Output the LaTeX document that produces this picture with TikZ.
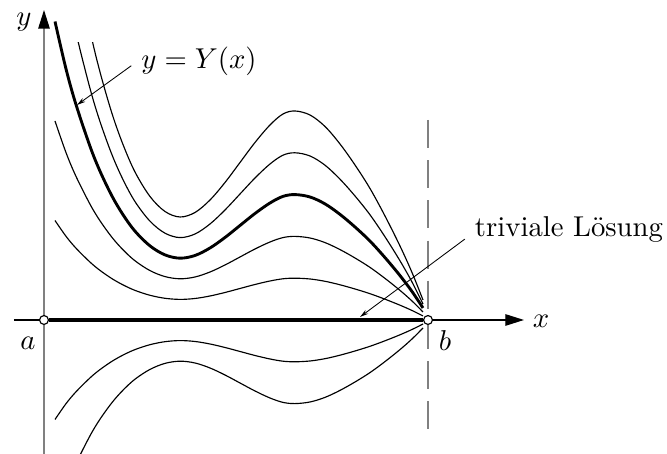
\documentclass[tikz,border=0pt]{standalone}
\usepackage{tikz}
\usetikzlibrary{arrows.meta}

\newcommand{\solcurve}[2][]{%
  \draw[yscale=#2,#1] plot[smooth,tension=0.55] coordinates {(11,99.5) (22,83.7) (32,71.8) (46,57.9) (56,49.6) (68,41.3) (79,35.1) (91,29.6) (106,24.7) (121,21.7) (136,20.6) (151,21.5) (166,24) (181,27.5) (196,31.5) (211,35.5) (226,39) (239,41.2) (251,41.8) (266,41) (281,38.7) (296,35.2) (311,31) (326,26.3) (341,20.8) (356,14.8) (368,9.5) (379,4)};}

\begin{document}
\begin{tikzpicture}[x=0.3484pt,y=0.3484pt, >=Stealth,
  pt/.style={circle,draw,fill=white,inner sep=0pt,minimum size=3.1pt,line width=0.4pt},
  sol/.style={line width=0.4pt},
  ysol/.style={line width=1pt},
  note/.style={line width=0.3pt,-{Stealth[length=3pt,width=1.6pt]}},
  axis/.style={line width=0.45pt,-{Triangle[length=6.5pt,width=4pt,color=black]}}]
\clip (-44,-134) rectangle (623,320);
% axes
\coordinate (xbeg) at (-30,0);
\coordinate (xend) at (480,0);
\coordinate (ybeg) at (0,-140);
\coordinate (yend) at (0,310);
\coordinate (dtop) at (384,200);
\coordinate (dbot) at (384,-110);
\draw[axis] (xbeg) -- (xend);
\draw[axis,gray] (ybeg) -- (yend);
\draw[gray,line width=0.5pt,dash pattern=on 9.8pt off 4.2pt] (dtop) -- (dbot);
% solutions
\solcurve[sol]{1}
\solcurve[sol]{2}
\solcurve[ysol]{3}
\solcurve[sol]{-1}
\solcurve[sol]{-2}
\begin{scope}
\clip (0,-134) rectangle (400,277);
\solcurve[sol]{4}
\solcurve[sol]{5}
\end{scope}
% end points
\node[pt] (a) at (0,0) {};
\node[pt] (b) at (384,0) {};
\draw[line width=1.1pt] (a) -- (b);
% labels
\node (ylab) at (-20,298) {$y$};
\node (xlab) at (497,-1) {$x$};
\node (alab) at (-16,-23) {$a$};
\node (blab) at (401,-21) {$b$};
\node (Ylab) at (155,259) {$y=Y(x)$};
\node (tlab) at (525,90) {triviale Lösung};
\coordinate (Ytip) at (33,215);
\coordinate (ttip) at (316,3);
\draw[note] (Ylab.184) -- (Ytip);
\draw[note] (tlab.185) -- (ttip);
\end{tikzpicture}
\end{document}
